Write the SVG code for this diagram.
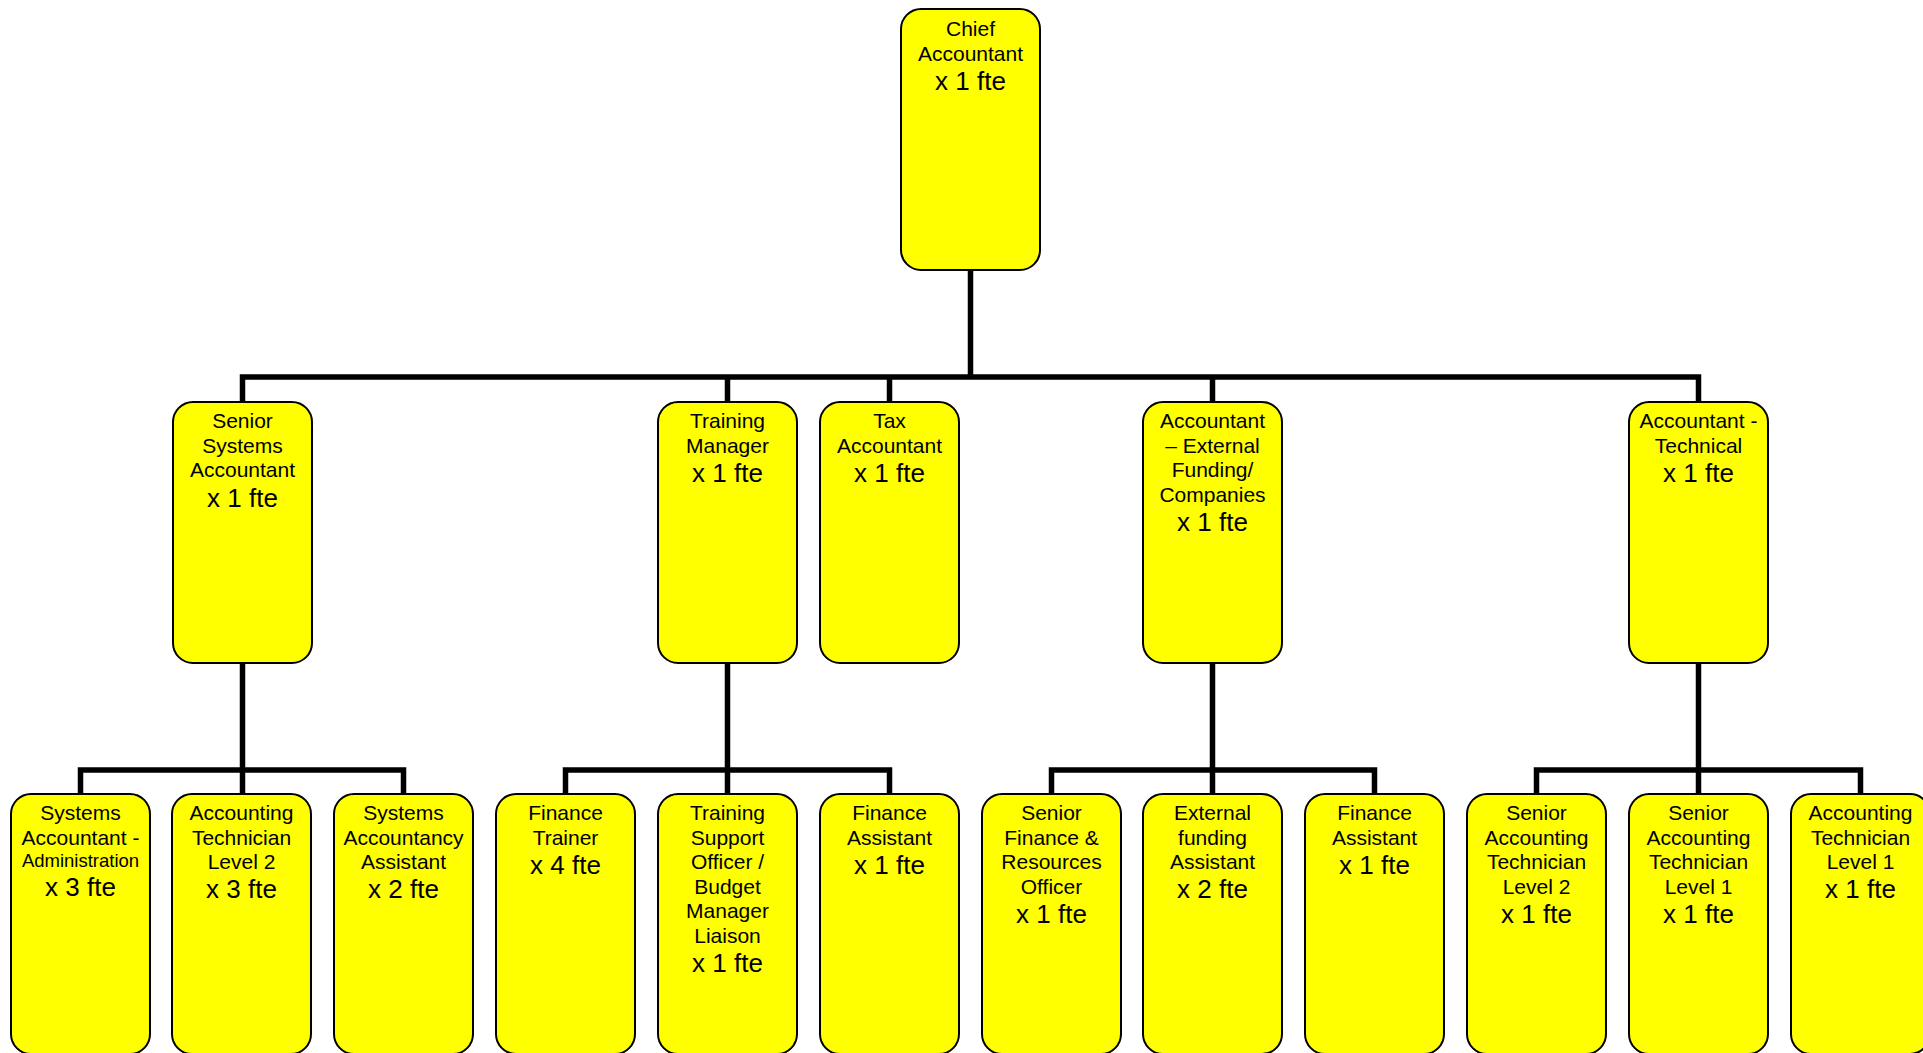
<svg xmlns="http://www.w3.org/2000/svg" width="1923" height="1053" viewBox="0 0 1923 1053">
<style>
.box{fill:#ffff00;stroke:#000;stroke-width:2}
.t{font-family:"Liberation Sans",Arial,sans-serif;font-size:21px;fill:#000;text-anchor:middle}
.f{font-size:26px}
.s{font-size:18.5px}
.c{fill:none;stroke:#000;stroke-width:5.5;stroke-linejoin:miter;stroke-linecap:butt}
</style>
<rect width="1923" height="1053" fill="#fff"/>
<g id="connectors">
<path class="c" d="M970.5 270 V377 M242.5 402 V377 H1698.5 V402 M727.5 377 V402 M889.5 377 V402 M1212.5 377 V402"/>
<path class="c" d="M242.5 663 V770 M80.5 794 V770 H403.5 V794 M242.5 770 V794"/>
<path class="c" d="M727.5 663 V770 M565.5 794 V770 H889.5 V794 M727.5 770 V794"/>
<path class="c" d="M1212.5 663 V770 M1051.5 794 V770 H1374.5 V794 M1212.5 770 V794"/>
<path class="c" d="M1698.5 663 V770 M1536.5 794 V770 H1860.5 V794 M1698.5 770 V794"/>
</g>
<g id="chief">
<rect class="box" x="901" y="9" width="139" height="261" rx="20"/>
<text class="t" x="970.5" y="36">Chief</text>
<text class="t" x="970.5" y="60.6">Accountant</text>
<text class="t f" x="970.5" y="89.6">x 1 fte</text>
</g>
<g id="senior-systems-accountant">
<rect class="box" x="173" y="402" width="139" height="261" rx="20"/>
<text class="t" x="242.5" y="428">Senior</text>
<text class="t" x="242.5" y="452.6">Systems</text>
<text class="t" x="242.5" y="477.2">Accountant</text>
<text class="t f" x="242.5" y="506.5">x 1 fte</text>
</g>
<g id="training-manager">
<rect class="box" x="658" y="402" width="139" height="261" rx="20"/>
<text class="t" x="727.5" y="428">Training</text>
<text class="t" x="727.5" y="452.6">Manager</text>
<text class="t f" x="727.5" y="481.8">x 1 fte</text>
</g>
<g id="tax-accountant">
<rect class="box" x="820" y="402" width="139" height="261" rx="20"/>
<text class="t" x="889.5" y="428">Tax</text>
<text class="t" x="889.5" y="452.6">Accountant</text>
<text class="t f" x="889.5" y="481.8">x 1 fte</text>
</g>
<g id="accountant-external-funding">
<rect class="box" x="1143" y="402" width="139" height="261" rx="20"/>
<text class="t" x="1212.5" y="428">Accountant</text>
<text class="t" x="1212.5" y="452.6">– External</text>
<text class="t" x="1212.5" y="477.2">Funding/</text>
<text class="t" x="1212.5" y="501.8">Companies</text>
<text class="t f" x="1212.5" y="530.8">x 1 fte</text>
</g>
<g id="accountant-technical">
<rect class="box" x="1629" y="402" width="139" height="261" rx="20"/>
<text class="t" x="1698.5" y="428">Accountant -</text>
<text class="t" x="1698.5" y="452.6">Technical</text>
<text class="t f" x="1698.5" y="481.8">x 1 fte</text>
</g>
<g id="systems-accountant-admin">
<rect class="box" x="11" y="794" width="139" height="260" rx="20"/>
<text class="t" x="80.5" y="820">Systems</text>
<text class="t" x="80.5" y="844.6">Accountant -</text>
<text class="t s" x="80.5" y="867">Administration</text>
<text class="t f" x="80.5" y="896">x 3 fte</text>
</g>
<g id="accounting-technician-l2">
<rect class="box" x="172" y="794" width="139" height="260" rx="20"/>
<text class="t" x="241.5" y="820">Accounting</text>
<text class="t" x="241.5" y="844.6">Technician</text>
<text class="t" x="241.5" y="869.2">Level 2</text>
<text class="t f" x="241.5" y="898.4">x 3 fte</text>
</g>
<g id="systems-accountancy-assistant">
<rect class="box" x="334" y="794" width="139" height="260" rx="20"/>
<text class="t" x="403.5" y="820">Systems</text>
<text class="t" x="403.5" y="844.6">Accountancy</text>
<text class="t" x="403.5" y="869.2">Assistant</text>
<text class="t f" x="403.5" y="898.4">x 2 fte</text>
</g>
<g id="finance-trainer">
<rect class="box" x="496" y="794" width="139" height="260" rx="20"/>
<text class="t" x="565.5" y="820">Finance</text>
<text class="t" x="565.5" y="844.6">Trainer</text>
<text class="t f" x="565.5" y="873.8">x 4 fte</text>
</g>
<g id="training-support-officer">
<rect class="box" x="658" y="794" width="139" height="260" rx="20"/>
<text class="t" x="727.5" y="820">Training</text>
<text class="t" x="727.5" y="844.6">Support</text>
<text class="t" x="727.5" y="869.2">Officer /</text>
<text class="t" x="727.5" y="893.8">Budget</text>
<text class="t" x="727.5" y="918.4">Manager</text>
<text class="t" x="727.5" y="943">Liaison</text>
<text class="t f" x="727.5" y="972.2">x 1 fte</text>
</g>
<g id="finance-assistant-1">
<rect class="box" x="820" y="794" width="139" height="260" rx="20"/>
<text class="t" x="889.5" y="820">Finance</text>
<text class="t" x="889.5" y="844.6">Assistant</text>
<text class="t f" x="889.5" y="873.8">x 1 fte</text>
</g>
<g id="senior-finance-resources-officer">
<rect class="box" x="982" y="794" width="139" height="260" rx="20"/>
<text class="t" x="1051.5" y="820">Senior</text>
<text class="t" x="1051.5" y="844.6">Finance &amp;</text>
<text class="t" x="1051.5" y="869.2">Resources</text>
<text class="t" x="1051.5" y="893.8">Officer</text>
<text class="t f" x="1051.5" y="923">x 1 fte</text>
</g>
<g id="external-funding-assistant">
<rect class="box" x="1143" y="794" width="139" height="260" rx="20"/>
<text class="t" x="1212.5" y="820">External</text>
<text class="t" x="1212.5" y="844.6">funding</text>
<text class="t" x="1212.5" y="869.2">Assistant</text>
<text class="t f" x="1212.5" y="898.4">x 2 fte</text>
</g>
<g id="finance-assistant-2">
<rect class="box" x="1305" y="794" width="139" height="260" rx="20"/>
<text class="t" x="1374.5" y="820">Finance</text>
<text class="t" x="1374.5" y="844.6">Assistant</text>
<text class="t f" x="1374.5" y="873.8">x 1 fte</text>
</g>
<g id="senior-accounting-technician-l2">
<rect class="box" x="1467" y="794" width="139" height="260" rx="20"/>
<text class="t" x="1536.5" y="820">Senior</text>
<text class="t" x="1536.5" y="844.6">Accounting</text>
<text class="t" x="1536.5" y="869.2">Technician</text>
<text class="t" x="1536.5" y="893.8">Level 2</text>
<text class="t f" x="1536.5" y="923">x 1 fte</text>
</g>
<g id="senior-accounting-technician-l1">
<rect class="box" x="1629" y="794" width="139" height="260" rx="20"/>
<text class="t" x="1698.5" y="820">Senior</text>
<text class="t" x="1698.5" y="844.6">Accounting</text>
<text class="t" x="1698.5" y="869.2">Technician</text>
<text class="t" x="1698.5" y="893.8">Level 1</text>
<text class="t f" x="1698.5" y="923">x 1 fte</text>
</g>
<g id="accounting-technician-l1">
<rect class="box" x="1791" y="794" width="139" height="260" rx="20"/>
<text class="t" x="1860.5" y="820">Accounting</text>
<text class="t" x="1860.5" y="844.6">Technician</text>
<text class="t" x="1860.5" y="869.2">Level 1</text>
<text class="t f" x="1860.5" y="898.4">x 1 fte</text>
</g>
</svg>
